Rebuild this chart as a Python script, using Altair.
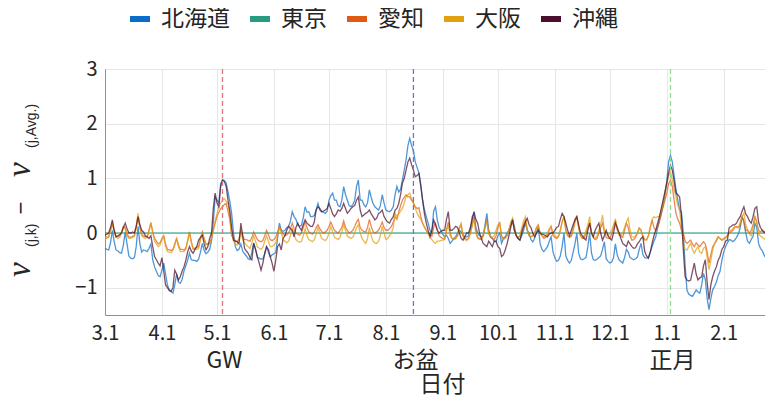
import altair as alt
import pandas as pd

# ---------------- data ----------------
regions = ["北海道", "東京", "愛知", "大阪", "沖縄"]
region_colors = ["#0A6EC8", "#289B82", "#E15A14", "#E1A00F", "#4B0F2D"]

tick_days = [0, 31, 61, 92, 122, 153, 184, 214, 245, 275, 306, 337]
tick_labels = ["3.1", "4.1", "5.1", "6.1", "7.1", "8.1", "9.1", "10.1", "11.1", "12.1", "1.1", "2.1"]

event_days = [64, 168, 308]
event_labels = ["GW", "お盆", "正月"]
event_colors = ["#E07878", "#7474C4", "#8BE08B"]

hokkaido = [
    -0.28, -0.30, -0.31, -0.18, 0.05, -0.16, -0.31,
    -0.33, -0.36, -0.37, -0.22, 0.02, -0.20, -0.42,
    -0.46, -0.47, -0.45, -0.25, 0.12, -0.20, -0.35,
    -0.31, -0.32, -0.34, -0.28, -0.20, -0.49, -0.62,
    -0.70, -0.78, -0.80, -0.68, -0.55, -0.75, -0.95,
    -1.04, -1.07, -1.10, -0.95, -0.75, -0.90, -0.92,
    -0.85, -0.70, -0.60, -0.50, -0.37, -0.49, -0.50,
    -0.50, -0.52, -0.48, -0.35, -0.19, -0.32, -0.38,
    -0.35, -0.30, -0.15, 0.20, 0.66, 0.60, 0.55,
    0.90, 0.97, 0.96, 0.92, 0.75, 0.58, 0.35,
    0.00, -0.25, -0.32, -0.30, -0.20, -0.33, -0.38,
    -0.42, -0.47, -0.49, -0.35, -0.18, -0.30, -0.45,
    -0.46, -0.48, -0.47, -0.38, -0.25, -0.35, -0.44,
    -0.40, -0.38, -0.36, -0.10, 0.18, 0.05, 0.03,
    0.05, 0.10, 0.12, 0.22, 0.39, 0.30, 0.25,
    0.15, 0.12, 0.14, 0.28, 0.48, 0.38, 0.39,
    0.30, 0.30, 0.32, 0.42, 0.54, 0.42, 0.39,
    0.38, 0.36, 0.40, 0.60, 0.68, 0.73, 0.60,
    0.60, 0.50, 0.48, 0.60, 0.85, 0.70, 0.60,
    0.50, 0.48, 0.52, 0.60, 0.85, 0.97, 0.60,
    0.60, 0.52, 0.48, 0.55, 0.79, 0.65, 0.54,
    0.48, 0.45, 0.42, 0.50, 0.70, 0.55, 0.42,
    0.40, 0.39, 0.42, 0.48, 0.70, 0.85, 0.75,
    0.80, 0.97, 1.15, 1.34, 1.60, 1.73, 1.60,
    1.50, 1.30, 1.20, 1.10, 0.90, 0.60, 0.42,
    0.30, 0.18, 0.05, 0.00, 0.40, 0.48, 0.24,
    0.10, 0.05, -0.02, -0.07, -0.04, -0.10, -0.19,
    -0.15, -0.10, -0.07, 0.00, 0.05, 0.02, -0.03,
    -0.07, -0.07, -0.05, 0.05, 0.30, 0.36, 0.10,
    0.00, -0.05, -0.07, -0.05, 0.15, 0.36, 0.05,
    -0.07, -0.10, -0.15, -0.16, -0.05, 0.00, -0.19,
    -0.10, -0.07, 0.00, 0.05, 0.15, 0.24, 0.12,
    -0.05, -0.10, -0.13, -0.05, 0.05, 0.18, 0.05,
    0.00, -0.12, -0.16, -0.10, 0.00, 0.12, -0.19,
    -0.30, -0.34, -0.30, -0.25, -0.15, -0.07, -0.34,
    -0.45, -0.52, -0.50, -0.42, -0.25, 0.00, -0.42,
    -0.50, -0.55, -0.50, -0.35, -0.20, 0.00, -0.37,
    -0.47, -0.49, -0.47, -0.45, -0.25, 0.00, -0.37,
    -0.49, -0.50, -0.48, -0.45, -0.42, -0.30, -0.16,
    -0.47, -0.52, -0.55, -0.53, -0.45, -0.20, -0.40,
    -0.49, -0.52, -0.55, -0.45, -0.30, -0.35, -0.45,
    -0.47, -0.49, -0.47, -0.44, -0.30, -0.19, -0.40,
    -0.45, -0.46, -0.45, -0.35, -0.25, -0.15, -0.07,
    0.10, 0.24, 0.35, 0.50, 0.70, 0.95, 1.30,
    1.42, 1.30, 1.05, 0.80, 0.60, 0.42, 0.38,
    0.00, -0.60, -1.05, -1.12, -1.14, -1.16, -1.10,
    -1.04, -1.08, -1.10, -0.95, -0.74, -0.85, -1.20,
    -1.40, -1.20, -1.04, -0.98, -0.90, -0.78, -0.70,
    -0.50, -0.35, -0.25, -0.18, -0.12, -0.13, -0.16,
    -0.13, -0.08, -0.02, 0.10, 0.30, 0.20, 0.00,
    -0.15, -0.19, -0.12, -0.06, 0.18, 0.10, -0.19,
    -0.28, -0.32, -0.40, -0.46, -0.30, -0.20, -0.07,
    -0.10,
]

tokyo = [0.0] * len(hokkaido)

aichi = [
    -0.05, -0.08, -0.07, 0.05, 0.18, 0.05, -0.06,
    -0.07, -0.05, 0.02, 0.12, 0.10, -0.02, -0.07,
    -0.08, -0.06, -0.05, 0.10, 0.30, 0.10, -0.03,
    -0.05, -0.07, -0.06, 0.05, 0.18, 0.02, -0.10,
    -0.15, -0.20, -0.18, -0.10, -0.05, -0.20, -0.30,
    -0.31, -0.32, -0.30, -0.20, -0.10, -0.22, -0.30,
    -0.30, -0.31, -0.28, -0.15, 0.02, -0.15, -0.28,
    -0.28, -0.26, -0.25, -0.10, 0.02, -0.10, -0.20,
    -0.20, -0.19, -0.10, 0.05, 0.18, 0.30, 0.38,
    0.44, 0.48, 0.52, 0.54, 0.40, 0.24, -0.05,
    -0.10, -0.14, -0.16, -0.10, 0.05, -0.05, -0.12,
    -0.12, -0.14, -0.15, -0.08, 0.02, -0.05, -0.12,
    -0.15, -0.16, -0.14, -0.05, 0.05, -0.03, -0.12,
    -0.14, -0.12, -0.08, 0.02, 0.12, 0.05, -0.02,
    -0.05, -0.03, 0.00, 0.08, 0.18, 0.08, 0.00,
    -0.02, -0.04, 0.00, 0.10, 0.20, 0.10, 0.02,
    0.00, -0.02, 0.02, 0.10, 0.15, 0.08, 0.03,
    0.00, 0.02, 0.05, 0.12, 0.20, 0.12, 0.05,
    0.02, 0.00, 0.05, 0.10, 0.22, 0.10, 0.05,
    0.00, 0.02, 0.05, 0.12, 0.20, 0.25, 0.10,
    0.05, 0.03, 0.02, 0.10, 0.25, 0.12, 0.03,
    0.00, 0.02, 0.05, 0.12, 0.20, 0.10, 0.05,
    0.05, 0.08, 0.12, 0.20, 0.30, 0.25, 0.38,
    0.50, 0.60, 0.65, 0.70, 0.66, 0.66, 0.60,
    0.55, 0.48, 0.45, 0.46, 0.30, 0.18, 0.10,
    0.05, 0.00, -0.02, -0.06, 0.10, 0.18, 0.05,
    -0.05, -0.08, -0.10, -0.12, 0.05, 0.20, 0.00,
    -0.10, -0.12, -0.10, -0.05, 0.08, 0.15, -0.05,
    -0.10, -0.12, -0.10, 0.00, 0.15, 0.30, 0.05,
    -0.08, -0.10, -0.12, -0.05, 0.10, 0.25, 0.00,
    -0.08, -0.10, -0.12, -0.05, 0.10, 0.20, -0.05,
    -0.10, -0.08, -0.05, 0.05, 0.15, 0.24, 0.05,
    -0.05, -0.08, -0.06, 0.05, 0.15, 0.24, 0.05,
    -0.05, -0.07, -0.05, 0.00, 0.10, 0.15, 0.00,
    -0.05, -0.10, -0.08, -0.05, 0.05, 0.12, -0.05,
    -0.08, -0.10, -0.07, 0.05, 0.20, 0.30, 0.05,
    -0.05, -0.08, -0.06, 0.05, 0.20, 0.30, 0.10,
    -0.05, -0.10, -0.10, 0.00, 0.10, 0.18, 0.00,
    -0.08, -0.12, -0.10, 0.00, 0.10, 0.18, 0.02,
    -0.08, -0.10, -0.10, -0.02, 0.10, 0.24, 0.05,
    0.00, -0.05, -0.08, 0.05, 0.18, 0.10, -0.05,
    -0.13, -0.12, -0.08, 0.00, 0.09, 0.05, -0.08,
    -0.13, -0.12, -0.05, 0.10, 0.24, 0.10, 0.05,
    0.10, 0.20, 0.35, 0.48, 0.60, 0.73, 0.90,
    0.97, 0.85, 0.60, 0.36, 0.25, 0.18, 0.05,
    0.00, -0.15, -0.19, -0.16, -0.13, -0.20, -0.25,
    -0.18, -0.22, -0.25, -0.20, -0.16, -0.20, -0.35,
    -0.55, -0.40, -0.25, -0.20, -0.15, -0.07, -0.10,
    -0.13, -0.10, -0.08, -0.05, 0.00, 0.02, 0.05,
    0.10, 0.12, 0.10, 0.15, 0.30, 0.22, 0.05,
    0.05, 0.00, 0.05, 0.15, 0.30, 0.20, 0.05,
    0.02, 0.05, 0.00, 0.05, 0.10, 0.15, 0.12,
    0.15,
]

osaka = [
    -0.08, -0.10, -0.08, 0.05, 0.15, 0.02, -0.08,
    -0.10, -0.08, 0.00, 0.10, 0.08, -0.05, -0.10,
    -0.10, -0.08, -0.06, 0.12, 0.36, 0.12, -0.05,
    -0.08, -0.10, -0.08, 0.05, 0.20, 0.00, -0.15,
    -0.20, -0.25, -0.22, -0.12, -0.08, -0.25, -0.34,
    -0.35, -0.36, -0.32, -0.22, -0.10, -0.25, -0.34,
    -0.34, -0.34, -0.30, -0.15, 0.00, -0.18, -0.30,
    -0.30, -0.30, -0.28, -0.12, 0.00, -0.12, -0.22,
    -0.20, -0.20, -0.10, 0.08, 0.22, 0.35, 0.48,
    0.55, 0.60, 0.63, 0.58, 0.54, 0.30, 0.00,
    -0.15, -0.20, -0.22, -0.15, 0.00, -0.10, -0.18,
    -0.22, -0.25, -0.28, -0.18, -0.05, -0.15, -0.25,
    -0.28, -0.30, -0.26, -0.15, -0.05, -0.15, -0.25,
    -0.25, -0.22, -0.18, -0.05, 0.10, 0.00, -0.12,
    -0.15, -0.18, -0.15, -0.05, 0.10, -0.02, -0.12,
    -0.15, -0.17, -0.15, -0.05, 0.08, -0.05, -0.12,
    -0.14, -0.16, -0.12, -0.02, 0.10, 0.00, -0.10,
    -0.12, -0.14, -0.10, 0.00, 0.12, 0.02, -0.08,
    -0.10, -0.12, -0.08, 0.02, 0.15, 0.05, -0.06,
    -0.08, -0.10, -0.08, 0.00, 0.10, 0.15, 0.00,
    -0.10, -0.15, -0.19, -0.10, 0.10, -0.05, -0.15,
    -0.18, -0.19, -0.15, -0.05, 0.12, 0.00, -0.12,
    -0.10, -0.05, 0.00, 0.10, 0.36, 0.30, 0.35,
    0.40, 0.45, 0.55, 0.66, 0.70, 0.73, 0.62,
    0.55, 0.45, 0.36, 0.30, 0.25, 0.18, 0.12,
    0.05, -0.02, -0.07, -0.12, -0.16, -0.19, -0.15,
    -0.15, -0.14, -0.13, -0.10, 0.05, 0.15, -0.05,
    -0.10, -0.12, -0.10, -0.05, 0.10, 0.18, -0.05,
    -0.12, -0.14, -0.10, 0.00, 0.12, 0.25, 0.00,
    -0.10, -0.12, -0.10, -0.02, 0.10, 0.20, -0.02,
    -0.05, -0.08, -0.05, 0.05, 0.15, 0.18, -0.10,
    -0.12, -0.10, -0.05, 0.05, 0.20, 0.27, 0.05,
    -0.05, -0.08, -0.05, 0.10, 0.22, 0.30, 0.05,
    -0.05, -0.07, -0.05, 0.00, 0.08, 0.12, 0.00,
    -0.05, -0.07, -0.05, 0.00, 0.08, 0.12, 0.00,
    -0.05, -0.08, -0.05, 0.05, 0.20, 0.30, 0.05,
    -0.05, -0.06, -0.04, 0.10, 0.25, 0.30, 0.10,
    -0.05, -0.08, -0.05, 0.05, 0.15, 0.30, 0.00,
    -0.08, -0.10, -0.05, 0.05, 0.15, 0.33, 0.05,
    0.00, -0.05, 0.00, 0.05, 0.15, 0.24, 0.10,
    -0.04, -0.05, 0.00, 0.10, 0.20, 0.27, 0.05,
    -0.07, -0.08, -0.05, 0.00, 0.09, 0.05, -0.05,
    -0.12, -0.13, -0.05, 0.10, 0.25, 0.30, 0.28,
    0.30, 0.30, 0.40, 0.55, 0.75, 0.91, 1.05,
    1.12, 0.97, 0.80, 0.66, 0.50, 0.42, 0.10,
    -0.19, -0.30, -0.31, -0.25, -0.19, -0.30, -0.37,
    -0.30, -0.25, -0.35, -0.37, -0.28, -0.25, -0.45,
    -0.67, -0.50, -0.31, -0.20, -0.12, -0.07, -0.10,
    -0.13, -0.12, -0.10, -0.05, 0.00, 0.05, 0.08,
    0.12, 0.10, 0.10, 0.20, 0.30, 0.36, 0.15,
    0.05, -0.02, -0.05, 0.10, 0.30, 0.20, -0.02,
    -0.05, -0.08, -0.10, -0.13, -0.05, 0.00, 0.00,
    0.05,
]

okinawa = [
    -0.04, -0.02, 0.00, 0.10, 0.24, 0.05, -0.07,
    -0.05, -0.03, 0.00, 0.10, 0.18, 0.08, 0.00,
    0.00, 0.02, 0.00, 0.12, 0.30, 0.15, 0.05,
    0.02, -0.05, -0.07, -0.10, -0.05, -0.25, -0.43,
    -0.49, -0.55, -0.60, -0.45, -0.70, -0.95, -1.00,
    -1.05, -1.07, -1.00, -0.68, -0.75, -0.86, -0.80,
    -0.70, -0.62, -0.50, -0.35, -0.25, -0.33, -0.37,
    -0.30, -0.25, -0.13, -0.08, -0.04, -0.20, -0.31,
    -0.25, -0.10, 0.00, 0.45, 0.73, 0.55, 0.48,
    0.85, 0.97, 0.94, 0.85, 0.60, 0.40, 0.10,
    -0.13, -0.15, -0.16, -0.20, 0.18, -0.05, -0.28,
    -0.33, -0.37, -0.45, -0.49, -0.19, -0.30, -0.43,
    -0.55, -0.68, -0.55, -0.37, -0.25, -0.30, -0.43,
    -0.55, -0.70, -0.50, -0.25, -0.20, -0.31, -0.10,
    -0.05, 0.05, 0.12, 0.08, 0.05, -0.07, 0.10,
    0.18, 0.10, 0.05, 0.15, 0.24, 0.18, 0.15,
    0.12, 0.12, 0.20, 0.42, 0.48, 0.45, 0.39,
    0.40, 0.42, 0.45, 0.54, 0.45, 0.35, 0.30,
    0.35, 0.42, 0.40, 0.45, 0.54, 0.45, 0.36,
    0.40, 0.45, 0.48, 0.50, 0.60, 0.66, 0.42,
    0.30, 0.33, 0.36, 0.38, 0.42, 0.35, 0.30,
    0.24, 0.27, 0.36, 0.38, 0.42, 0.30, 0.24,
    0.20, 0.18, 0.25, 0.30, 0.42, 0.45, 0.54,
    0.70, 0.91, 1.00, 1.15, 1.30, 1.37, 1.25,
    1.15, 1.03, 1.05, 1.09, 0.85, 0.60, 0.35,
    0.18, 0.05, -0.07, 0.05, 0.24, 0.15, 0.05,
    0.00, 0.03, 0.05, 0.05, 0.25, 0.39, 0.05,
    0.05, 0.08, 0.12, 0.10, 0.00, -0.10, -0.13,
    -0.07, 0.00, 0.00, 0.10, 0.25, 0.39, 0.25,
    0.18, 0.00, -0.10, -0.19, -0.22, -0.25, -0.15,
    -0.20, -0.25, -0.15, -0.15, -0.25, -0.28, -0.43,
    -0.40, -0.31, -0.20, -0.05, 0.10, 0.24, 0.05,
    -0.05, -0.10, -0.13, 0.00, 0.12, 0.20, 0.27,
    0.15, 0.10, 0.00, -0.07, 0.00, 0.05, 0.00,
    -0.02, -0.03, -0.05, -0.07, -0.02, 0.00, 0.00,
    0.05, 0.10, 0.12, 0.25, 0.36, 0.30, 0.18,
    0.05, -0.05, 0.05, 0.15, 0.24, 0.30, 0.15,
    0.00, -0.05, -0.10, -0.13, 0.05, 0.18, 0.00,
    -0.07, 0.05, 0.12, 0.18, 0.00, -0.13, -0.05,
    0.05, -0.05, -0.10, -0.13, 0.00, 0.18, 0.10,
    0.00, -0.10, -0.19, -0.22, -0.25, -0.15, -0.20,
    -0.25, -0.28, -0.27, -0.20, -0.16, -0.10, -0.07,
    -0.34, -0.42, -0.46, -0.35, -0.19, -0.05, 0.05,
    0.18, 0.30, 0.45, 0.60, 0.75, 0.91, 1.10,
    1.24, 1.15, 0.95, 0.73, 0.70, 0.66, 0.30,
    -0.30, -0.80, -0.86, -0.88, -0.86, -0.70, -0.55,
    -0.75, -0.86, -0.82, -0.80, -0.60, -0.49, -0.90,
    -1.22, -0.95, -0.80, -0.70, -0.62, -0.50, -0.43,
    -0.30, -0.25, -0.15, -0.13, 0.10, 0.12, 0.15,
    0.15, 0.18, 0.25, 0.30, 0.40, 0.48, 0.35,
    0.30, 0.22, 0.18, 0.30, 0.45, 0.48, 0.20,
    0.10, 0.05, 0.02, 0.00, 0.15, 0.18, 0.24,
    0.30,
]

series = [hokkaido, tokyo, aichi, osaka, okinawa]

rows = []
for name, vals in zip(regions, series):
    for d, v in enumerate(vals):
        rows.append({"day": d, "value": v, "region": name})
df = pd.DataFrame(rows)

# ---------------- style ----------------
JP = "Noto Sans CJK JP"
TXT = "#262626"
PLOT_W, PLOT_H = 660, 246
X_END = 359.5  # visible part of the year (the rest runs past the picture edge)

label_expr = f"{tick_labels}[indexof({tick_days}, datum.value)]"

X = alt.X(
    "day:Q",
    scale=alt.Scale(domain=[0, X_END], nice=False, zero=False),
    axis=alt.Axis(
        values=tick_days, labelExpr=label_expr, title="日付",
        titleFont=JP, titleFontSize=23, titleFontWeight="normal", titleColor=TXT,
        titleX=337, titleY=76, titleBaseline="alphabetic",
        labelFont=JP, labelFontSize=20, labelColor=TXT, labelPadding=8,
        labelFlush=False, labelOverlap=False, ticks=False,
        grid=True, gridColor="#e6e6e6", domainColor="#8f8f8f",
    ),
)
Y = alt.Y(
    "value:Q",
    scale=alt.Scale(domain=[-1.5, 3], nice=False, zero=False),
    axis=alt.Axis(
        values=[-1, 0, 1, 2, 3], title=None,
        labelFont=JP, labelFontSize=20, labelColor=TXT, labelPadding=8,
        ticks=False, grid=True, gridColor="#e6e6e6", domainColor="#8f8f8f",
    ),
)
COLOR = alt.Color(
    "region:N",
    scale=alt.Scale(domain=regions, range=region_colors),
    legend=alt.Legend(
        orient="none", legendX=22, legendY=-63, direction="horizontal",
        gridAlign="none",
        title=None, symbolType="stroke", symbolSize=400, symbolStrokeWidth=6,
        symbolOpacity=1, labelFont=JP, labelFontSize=23, labelColor=TXT,
        labelOffset=8, columnPadding=8, padding=0,
    ),
)

base = alt.Chart(df)
layers = []
for name in regions:
    layers.append(
        base.transform_filter(alt.datum.region == name)
        .mark_line(strokeWidth=1.3, strokeOpacity=0.72, clip=True)
        .encode(x=X, y=Y, color=COLOR)
    )

for d, c in zip(event_days, event_colors):
    layers.append(
        alt.Chart(pd.DataFrame({"day": [d]}))
        .mark_rule(color=c, strokeDash=[5, 3], strokeWidth=1.3)
        .encode(x=X)
    )

events = pd.DataFrame({"day": event_days, "label": event_labels})
layers.append(
    alt.Chart(events)
    .mark_text(font=JP, fontSize=23, color=TXT, baseline="alphabetic", align="center", dx=2)
    .encode(x=X, y=alt.value(299), text="label:N")
)

# y-axis title: ν_(j,k) − ν_(j,Avg.)
title_parts = [
    ("ν", "Liberation Serif", 33, "italic", -75, 208, "left"),
    ("(j,k)", "Liberation Sans", 14, "normal", -69, 178, "left"),
    ("−", "Liberation Sans", 22, "normal", -77, 139, "center"),
    ("ν", "Liberation Serif", 33, "italic", -75, 108, "left"),
    ("(j,Avg.)", "Liberation Sans", 14, "normal", -69, 79, "left"),
]
for txt, font, size, style, px, py, al in title_parts:
    layers.append(
        alt.Chart(pd.DataFrame({"t": [txt]}))
        .mark_text(font=font, fontSize=size, fontStyle=style, color=TXT,
                   angle=270, align=al, baseline="alphabetic")
        .encode(x=alt.value(px), y=alt.value(py), text="t:N")
    )

chart = (
    alt.layer(*layers)
    .properties(
        width=PLOT_W, height=PLOT_H,
        padding={"left": 97, "top": 61, "right": 0, "bottom": 80},
        autosize=alt.AutoSizeParams(type="none"),
    )
    .configure_view(stroke=None)
    .configure(background="white")
)

chart.save("out.html", embed_options={"renderer": "svg", "actions": False})
